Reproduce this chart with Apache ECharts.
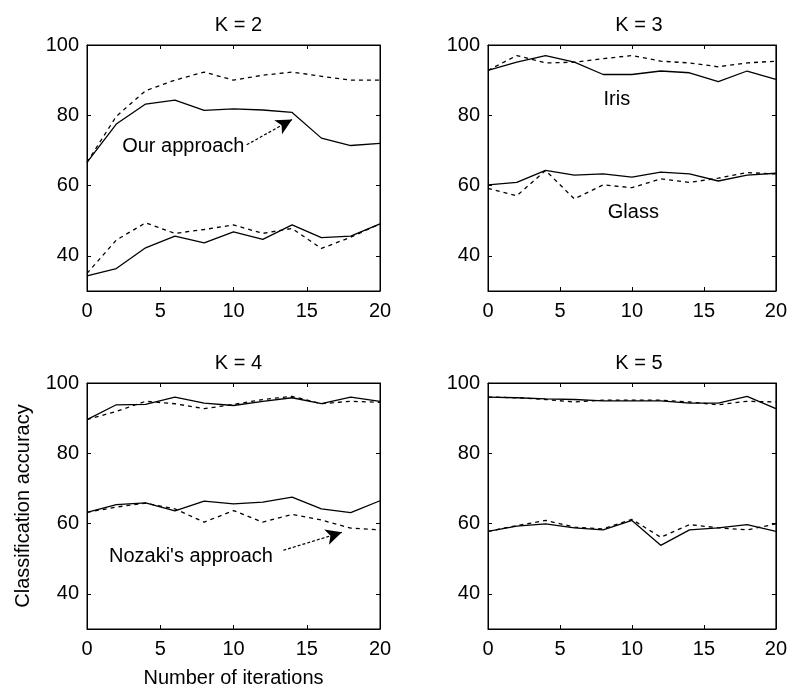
<!DOCTYPE html>
<html>
<head>
<meta charset="utf-8">
<script src="https://cdn.jsdelivr.net/npm/echarts@6/dist/echarts.min.js"></script>
<style>
html,body{margin:0;padding:0;background:#fff;}
#chart{width:790px;height:691px;}
</style>
</head>
<body>
<div id="chart"></div>
<script>
// ---- data ----
const iterations = [0, 2, 4, 6, 8, 10, 12, 14, 16, 18, 20];
const panelTitles = ['K = 2', 'K = 3', 'K = 4', 'K = 5'];
const xTicks = [0, 5, 10, 15, 20];
const yTicks = [40, 60, 80, 100];

// K = 2
const k2OursIris     = [66.6, 77.5, 83.2, 84.3, 81.4, 81.8, 81.5, 80.8, 73.5, 71.4, 72.0];
const k2NozakiIris   = [66.6, 79.7, 87.0, 90.0, 92.3, 90.0, 91.4, 92.3, 91.1, 90.0, 90.0];
const k2OursGlass    = [34.3, 36.4, 42.3, 45.6, 43.7, 46.8, 44.7, 48.8, 45.2, 45.6, 49.1];
const k2NozakiGlass  = [35.0, 44.5, 49.4, 46.4, 47.5, 48.8, 46.4, 47.8, 42.1, 45.3, 49.1];
// K = 3
const k3OursIris     = [92.8, 95.1, 97.0, 95.1, 91.6, 91.6, 92.6, 92.1, 89.6, 92.6, 90.2];
const k3NozakiIris   = [92.8, 97.0, 94.9, 95.1, 96.1, 97.0, 95.4, 94.9, 93.8, 94.9, 95.4];
const k3OursGlass    = [60.2, 60.9, 64.3, 63.0, 63.3, 62.4, 63.8, 63.3, 61.3, 63.0, 63.5];
const k3NozakiGlass  = [59.2, 57.1, 64.3, 56.2, 60.2, 59.4, 61.9, 60.9, 62.1, 63.7, 63.3];
// K = 4
const k4OursIris     = [89.6, 93.8, 93.9, 96.0, 94.3, 93.6, 94.8, 95.8, 94.1, 96.0, 94.8];
const k4NozakiIris   = [89.6, 91.9, 94.8, 94.1, 92.7, 93.9, 95.3, 96.2, 94.1, 94.8, 94.5];
const k4OursGlass    = [63.2, 65.4, 65.9, 63.6, 66.4, 65.6, 66.1, 67.5, 64.2, 63.1, 66.5];
const k4NozakiGlass  = [63.2, 64.7, 65.8, 64.2, 60.4, 63.7, 60.4, 62.6, 61.0, 58.7, 58.2];
// K = 5
const k5OursIris     = [96.0, 95.8, 95.5, 95.3, 94.9, 94.9, 94.9, 94.3, 94.3, 96.2, 92.7];
const k5NozakiIris   = [96.0, 95.8, 95.3, 94.6, 95.1, 95.1, 95.1, 94.6, 93.8, 94.8, 94.6];
const k5OursGlass    = [57.8, 59.3, 59.9, 58.8, 58.2, 60.9, 53.8, 58.2, 58.8, 59.7, 57.8];
const k5NozakiGlass  = [57.8, 59.4, 60.9, 59.0, 58.5, 61.2, 56.1, 59.7, 58.8, 58.2, 59.9];

const panels = [
  [k2OursIris, k2NozakiIris, k2OursGlass, k2NozakiGlass],
  [k3OursIris, k3NozakiIris, k3OursGlass, k3NozakiGlass],
  [k4OursIris, k4NozakiIris, k4OursGlass, k4NozakiGlass],
  [k5OursIris, k5NozakiIris, k5OursGlass, k5NozakiGlass]
];

// ---- layout ----
const FONT = "'Liberation Sans', Arial, Helvetica, sans-serif";
const FS = 20;
const gridBoxes = [
  {left: 87,  top: 45,  width: 293, height: 246},
  {left: 488, top: 45,  width: 292, height: 246},
  {left: 87,  top: 383, width: 293, height: 246},
  {left: 488, top: 383, width: 292, height: 246}
];

const grid = gridBoxes.map(g => Object.assign({show: true, borderColor: '#000', borderWidth: 1, backgroundColor: '#fff', containLabel: false}, g));

const xAxis = [], yAxis = [], series = [], title = [];
gridBoxes.forEach((g, i) => {
  title.push({
    text: panelTitles[i], left: g.left + g.width / 2, textAlign: 'center',
    top: g.top - 35,
    textStyle: {fontFamily: FONT, fontSize: FS, fontWeight: 'normal', color: '#000'}
  });
  xAxis.push({
    gridIndex: i, type: 'value', min: 0, max: 20, interval: 5, position: 'bottom',
    axisLine: {show: true, onZero: false, lineStyle: {color: '#000', width: 1}},
    axisTick: {show: true, inside: true, length: 4, lineStyle: {color: '#000'}},
    axisLabel: {show: true, margin: 10, color: '#000', fontFamily: FONT, fontSize: FS, showMinLabel: true, showMaxLabel: true},
    splitLine: {show: false},
    name: i === 2 ? 'Number of iterations' : '', nameLocation: 'middle', nameGap: 39,
    nameTextStyle: {fontFamily: FONT, fontSize: FS, color: '#000'}
  });
  xAxis.push({
    gridIndex: i, type: 'value', min: 0, max: 20, interval: 5, position: 'top',
    axisLine: {show: true, onZero: false, lineStyle: {color: '#000', width: 1}},
    axisTick: {show: true, inside: true, length: 4, lineStyle: {color: '#000'}},
    axisLabel: {show: false}, splitLine: {show: false}
  });
  yAxis.push({
    gridIndex: i, type: 'value', min: 30, max: 100, position: 'left',
    axisLine: {show: true, onZero: false, lineStyle: {color: '#000', width: 1}},
    axisTick: {show: true, inside: true, length: 4, customValues: yTicks, lineStyle: {color: '#000'}},
    axisLabel: {show: true, margin: 8, color: '#000', fontFamily: FONT, fontSize: FS, customValues: yTicks},
    splitLine: {show: false},
    name: i === 2 ? 'Classification accuracy' : '', nameLocation: 'middle', nameGap: 54,
    nameTextStyle: {fontFamily: FONT, fontSize: FS, color: '#000'}
  });
  yAxis.push({
    gridIndex: i, type: 'value', min: 30, max: 100, position: 'right',
    axisLine: {show: true, onZero: false, lineStyle: {color: '#000', width: 1}},
    axisTick: {show: true, inside: true, length: 4, customValues: yTicks, lineStyle: {color: '#000'}},
    axisLabel: {show: false}, splitLine: {show: false}
  });

  const [oi, ni, og, ng] = panels[i];
  const mk = (vals, dashed) => ({
    type: 'line', xAxisIndex: i * 2, yAxisIndex: i * 2,
    data: iterations.map((it, j) => [it, vals[j]]),
    showSymbol: false, symbol: 'none', smooth: false, silent: true,
    lineStyle: {color: '#000', width: 1.3, type: dashed ? [4, 4] : 'solid'}
  });
  series.push(mk(oi, false), mk(ni, true), mk(og, false), mk(ng, true));
});

// ---- annotations (placed in data coordinates) ----
const textStyle = {fontFamily: FONT, fontSize: FS, color: '#000'};
function addText(seriesIdx, x, y, txt, align) {
  const s = series[seriesIdx];
  s.markPoint = s.markPoint || {data: [], silent: true, animation: false};
  s.markPoint.data.push({
    coord: [x, y], symbol: 'circle', symbolSize: 0,
    label: Object.assign({show: true, formatter: txt, position: 'inside', align: align || 'left', verticalAlign: 'middle'}, textStyle)
  });
}
function addArrow(seriesIdx, x1, y1, x2, y2) {
  const s = series[seriesIdx];
  s.markLine = s.markLine || {data: [], silent: true, animation: false};
  s.markLine.symbol = ['none', 'arrow'];
  s.markLine.symbolSize = [12, 16];
  s.markLine.label = {show: false};
  s.markLine.lineStyle = {color: '#000', width: 1.2, type: [3, 2]};
  s.markLine.data.push([{coord: [x1, y1]}, {coord: [x2, y2]}]);
}
addText(0, 2.4, 71, 'Our approach', 'left');
addArrow(0, 10.9, 71.6, 14.0, 78.8);
addText(4, 8.95, 84.5, 'Iris', 'center');
addText(6, 10.1, 52.4, 'Glass', 'center');
addText(8, 1.5, 50.7, "Nozaki's approach", 'left');
addArrow(9, 13.4, 52.4, 17.4, 57.5);

const chart = echarts.init(document.getElementById('chart'), null, {renderer: 'canvas'});
chart.setOption({
  backgroundColor: '#fff',
  animation: false,
  title, grid, xAxis, yAxis, series
});
</script>
</body>
</html>
